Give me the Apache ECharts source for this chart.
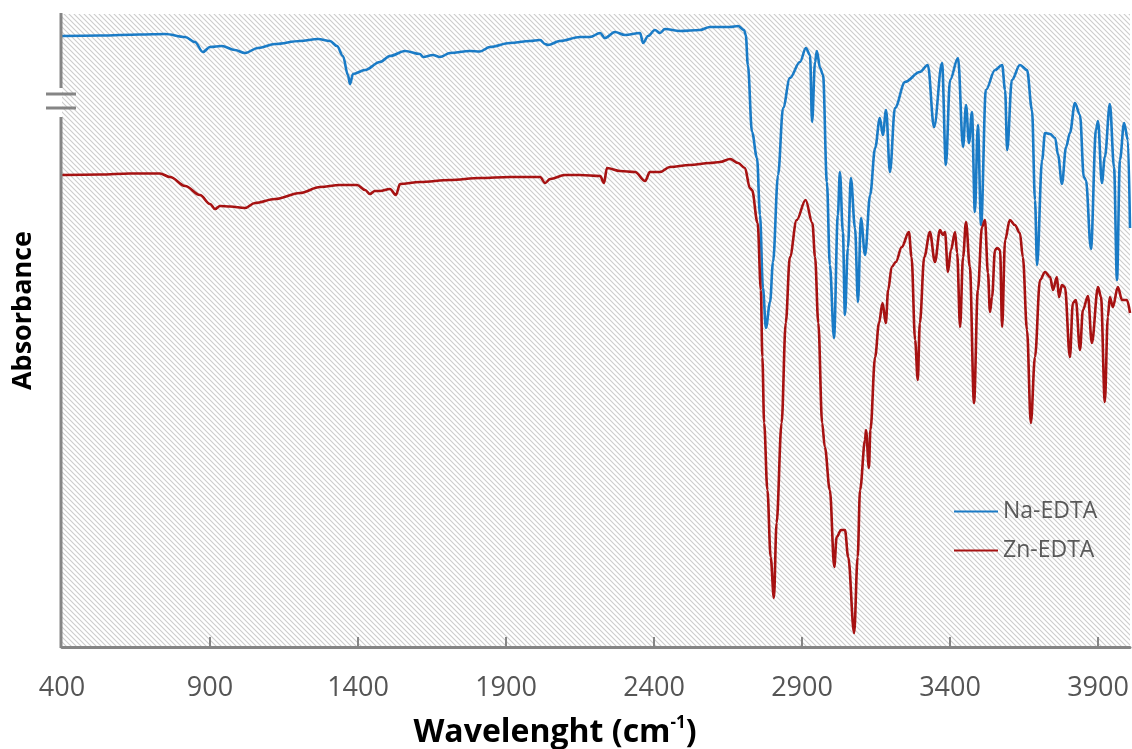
<!DOCTYPE html>
<html><head><meta charset="utf-8">
<script src="https://cdn.jsdelivr.net/npm/echarts@6/dist/echarts.min.js"></script>
<style>html,body{margin:0;padding:0;background:#fff}#c{width:1132px;height:749px}</style>
</head><body><div id="c"></div>
<script>
const seriesNames = ['Na-EDTA', 'Zn-EDTA'];
const xTickLabels = [400, 900, 1400, 1900, 2400, 2900, 3400, 3900];

const naWavenumber = [400,528,663,748,816,849,876,900,940,984,1018,1062,1120,1204,1265,1305,1329,1349,1366,1373,1383,1424,1474,1508,1559,1609,1620,1653,1677,1711,1778,1812,1846,1913,1981,2015,2032,2042,2082,2150,2184,2218,2234,2268,2302,2353,2363,2380,2403,2420,2437,2488,2555,2589,2657,2684,2704,2710,2717,2731,2748,2758,2768,2778,2792,2802,2819,2836,2859,2893,2913,2927,2934,2944,2950,2961,2971,2984,2994,3008,3021,3028,3038,3045,3055,3065,3079,3089,3099,3113,3130,3147,3163,3173,3184,3197,3214,3248,3298,3325,3346,3373,3386,3400,3427,3444,3454,3464,3474,3484,3494,3505,3521,3552,3576,3586,3593,3609,3636,3660,3677,3687,3694,3711,3721,3738,3755,3765,3778,3792,3805,3822,3839,3852,3859,3876,3893,3900,3913,3923,3940,3954,3964,3974,3988,4001,4008];
const naAbsorbance = [611,611.5,612.5,613,610,605,595,600,601,597,594,599,603,606,608,606,601,591,572,563,573,577,585,591,596,593,590,592,590,594,596,595.5,600,604,606,607,603,602,606,610,610,614,609,615,612,614,604,611,617,614,618,616,617,620,620,621,617,612,582,515,489,432,359,319,345,385,472,539,569,585,599,592,525,585,596,579,572,465,382,309,432,475,415,332,399,469,419,345,429,392,452,499,529,512,537,475,539,565,575,582,520,584,482,567,589,500,542,504,535,435,522,422,557,577,582,557,497,567,582,577,537,447,382,487,514,513,509,492,463,500,514,544,532,470,467,398,517,526,464,490,543,480,367,487,524,507,419];

const znWavenumber = [400,528,630,731,765,816,866,900,917,934,968,1018,1052,1120,1204,1272,1339,1397,1424,1440,1457,1474,1508,1528,1542,1609,1711,1812,1913,2015,2032,2049,2099,2150,2218,2231,2241,2285,2336,2370,2386,2420,2454,2521,2589,2623,2657,2684,2707,2724,2731,2750,2761,2766,2772,2783,2794,2805,2814,2831,2845,2859,2882,2912,2935,2944,2955,2968,2977,2994,3009,3017,3032,3045,3056,3076,3088,3096,3113,3116,3126,3131,3147,3160,3172,3183,3191,3203,3217,3237,3261,3270,3282,3291,3298,3313,3332,3349,3366,3376,3383,3393,3403,3417,3424,3434,3444,3454,3467,3481,3494,3508,3518,3528,3535,3542,3552,3559,3569,3576,3586,3602,3619,3636,3646,3660,3673,3687,3704,3721,3738,3748,3761,3768,3778,3788,3805,3815,3825,3839,3849,3866,3879,3900,3910,3923,3933,3940,3950,3967,3981,3998,4008];
const znAbsorbance = [472,472.5,473.5,473.5,470,461,452,443,438,441,440.5,439,444,448,454,460,462,462,457,453,456,456,458,452,463,465,467,469,470,470,464,468,472,472,471,464,479,476,475,466,475,475,480,482,484,485,488,484,479,459,457,424,357,290,224,157,90,49,124,224,324,390,427,447,424,390,324,224,200,157,80,110,117,117,90,14,90,157,207,217,179,217,290,324,344,324,357,380,385,400,415,390,307,267,324,390,415,385,417,412,415,375,397,415,394,320,390,425,380,244,357,420,427,374,335,350,397,399,397,320,407,427,422,414,390,317,224,290,367,375,370,357,370,350,362,360,290,344,347,297,337,351,304,360,350,245,330,350,340,360,347,347,334];

function hatchPattern() {
  const s = 5, c = document.createElement('canvas');
  c.width = s; c.height = s;
  const g = c.getContext('2d');
  g.fillStyle = '#ffffff'; g.fillRect(0, 0, s, s);
  g.strokeStyle = '#cccccc'; g.lineWidth = 1.1;
  g.beginPath();
  g.moveTo(-1, -1); g.lineTo(s + 1, s + 1);
  g.moveTo(-1, s - 1); g.lineTo(1, s + 1);
  g.moveTo(s - 1, -1); g.lineTo(s + 1, 1);
  g.stroke();
  return c;
}

const chart = echarts.init(document.getElementById('c'), null, {renderer: 'canvas'});
const axisGray = '#858585';
const font = 'Open Sans';
const option = {
  animation: false,
  backgroundColor: '#ffffff',
  grid: {left: 62, right: 2, top: 14, bottom: 102, show: true, containLabel: false, outerBoundsMode: 'none',
    backgroundColor: {image: hatchPattern(), repeat: 'repeat'}, borderWidth: 0},
  legend: {
    data: seriesNames, orient: 'vertical', left: 949, top: 495,
    itemWidth: 44, itemHeight: 2, itemGap: 16, icon: 'rect',
    textStyle: {color: '#595959', fontSize: 23, fontFamily: font}
  },
  xAxis: {
    type: 'value', min: 400, max: 4008,
    axisLine: {show: true, lineStyle: {color: axisGray, width: 3}},
    axisTick: {show: true, inside: true, length: 10, lineStyle: {color: axisGray, width: 2}, customValues: xTickLabels.slice(1)},
    axisLabel: {customValues: xTickLabels, formatter: v => String(v), color: '#555555', fontSize: 27, margin: 28, fontFamily: font},
    splitLine: {show: false},
    name: '{t|Wavelenght (cm}{s|-1}{t|)}',
    nameLocation: 'middle', nameGap: 68,
    nameTextStyle: {padding: [0, 82, 0, 0], rich: {
      t: {fontSize: 32, fontWeight: 'bold', color: '#000', fontFamily: font, lineHeight: 36},
      s: {fontSize: 17, fontWeight: 'bold', color: '#000', fontFamily: font, lineHeight: 36, verticalAlign: 'top', padding: [0, 0, 15, 0]}
    }}
  },
  yAxis: {
    type: 'value', min: 0, max: 633,
    axisLine: {show: false}, axisTick: {show: false}, axisLabel: {show: false}, splitLine: {show: false},
    name: 'Absorbance', nameLocation: 'middle', nameGap: 25,
    nameTextStyle: {fontSize: 27, fontWeight: 'bold', color: '#000', fontFamily: font, padding: [0, 0, 0, 40]}
  },
  graphic: [
    {type: 'line', z: 100, shape: {x1: 61, y1: 13, x2: 61, y2: 88}, style: {stroke: axisGray, lineWidth: 3}},
    {type: 'line', z: 100, shape: {x1: 61, y1: 117, x2: 61, y2: 648}, style: {stroke: axisGray, lineWidth: 3}},
    {type: 'line', z: 100, shape: {x1: 46, y1: 94, x2: 76, y2: 94}, style: {stroke: axisGray, lineWidth: 3}},
    {type: 'line', z: 100, shape: {x1: 46, y1: 108, x2: 76, y2: 108}, style: {stroke: axisGray, lineWidth: 3}}
  ],
  series: [
    {name: seriesNames[0], type: 'line', showSymbol: false, smooth: 0.35, smoothMonotone: 'x',
      data: naWavenumber.map((w, i) => [w, naAbsorbance[i]]),
      lineStyle: {color: '#1a7bc6', width: 2.6}, itemStyle: {color: '#1a7bc6'}},
    {name: seriesNames[1], type: 'line', showSymbol: false, smooth: 0.35, smoothMonotone: 'x',
      data: znWavenumber.map((w, i) => [w, znAbsorbance[i]]),
      lineStyle: {color: '#a61212', width: 2.6}, itemStyle: {color: '#a61212'}}
  ]
};
chart.setOption(option);
</script></body></html>
